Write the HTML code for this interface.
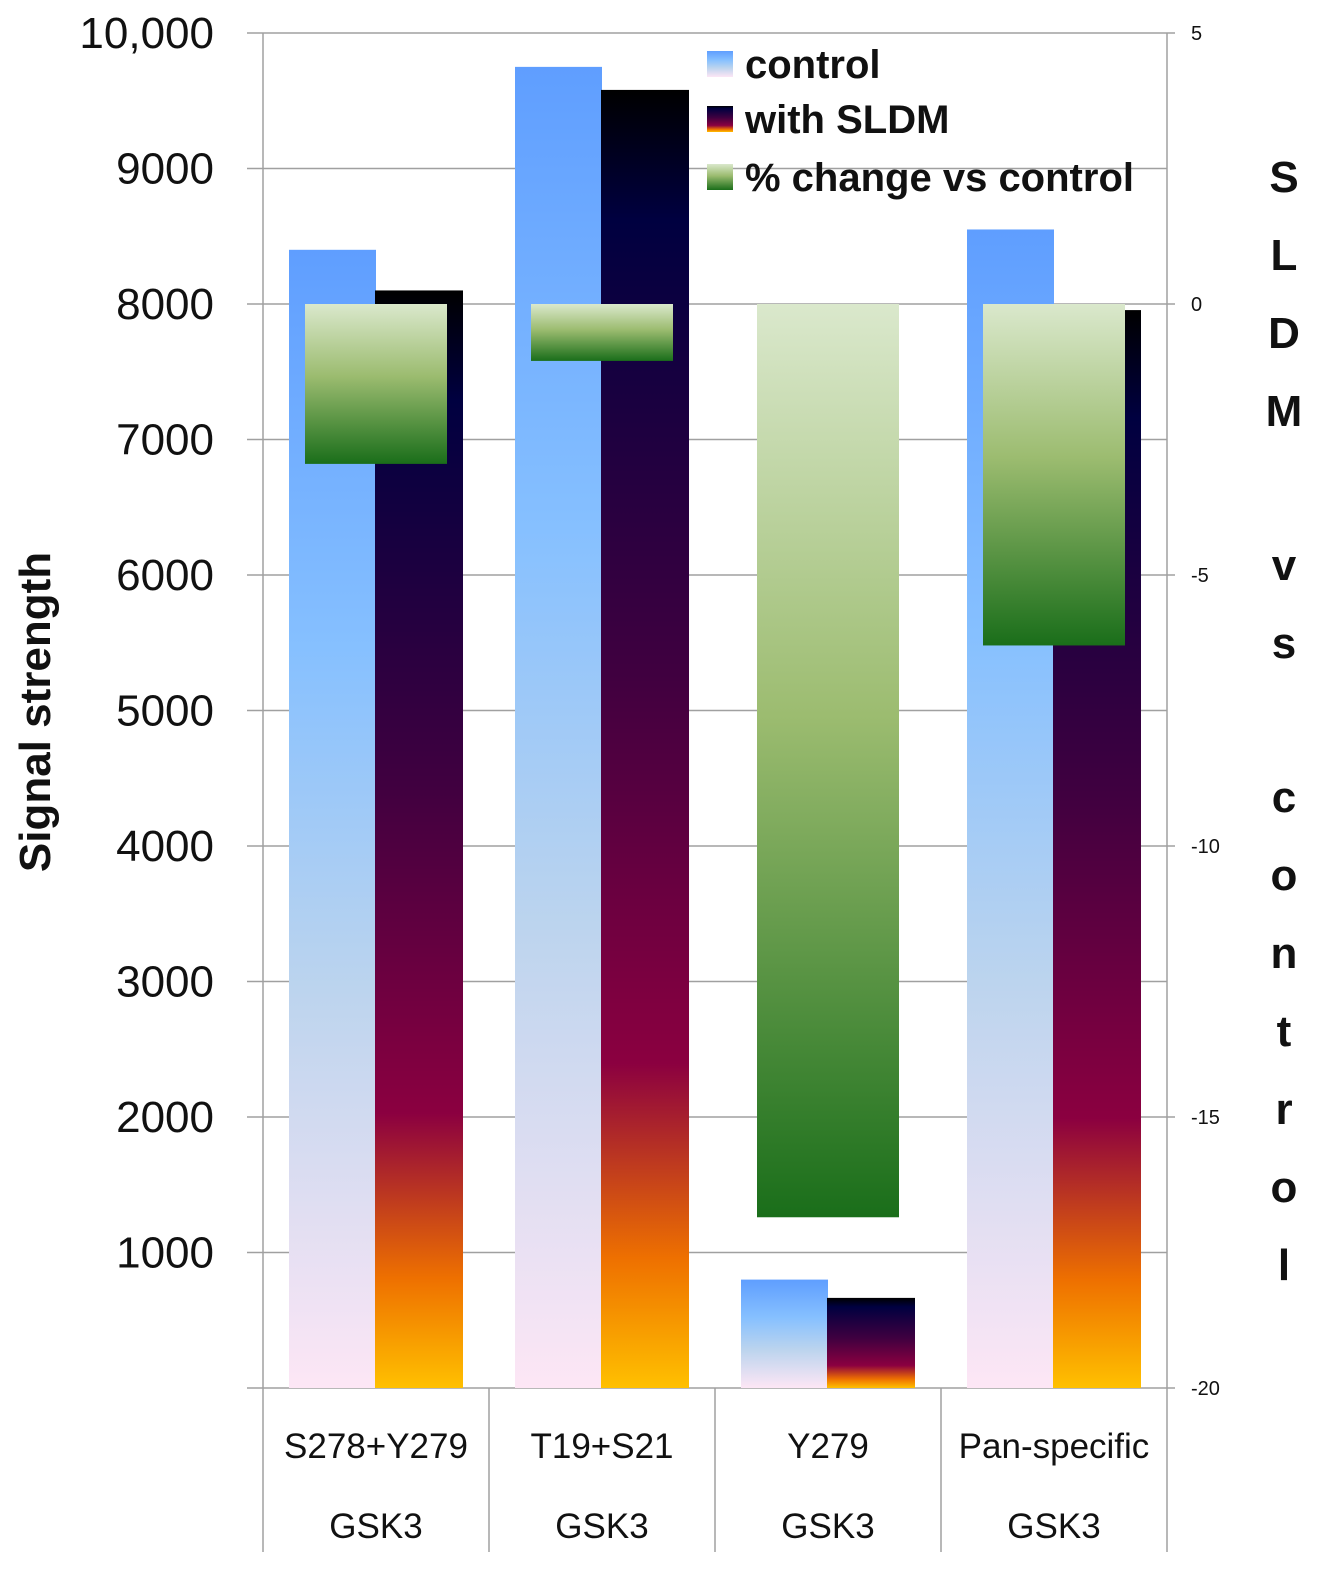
<!DOCTYPE html>
<html><head><meta charset="utf-8"><style>
body{margin:0;background:#fff;}
svg{display:block;font-family:"Liberation Sans",sans-serif;}
</style></head><body>
<svg id="chart" width="1334" height="1588">
<defs>
<linearGradient id="gCtrl" x1="0" y1="0" x2="0" y2="1">
<stop offset="0" stop-color="#5f9eff"/><stop offset="0.35" stop-color="#86c0ff"/><stop offset="0.65" stop-color="#bcd4ee"/><stop offset="1" stop-color="#fde6f5"/></linearGradient>
<linearGradient id="gSldm" x1="0" y1="0" x2="0" y2="1">
<stop offset="0" stop-color="#000000"/><stop offset="0.1" stop-color="#000040"/><stop offset="0.45" stop-color="#400040"/><stop offset="0.75" stop-color="#8b0040"/><stop offset="0.9" stop-color="#ee7000"/><stop offset="1" stop-color="#ffc000"/></linearGradient>
<linearGradient id="gPct" x1="0" y1="0" x2="0" y2="1">
<stop offset="0" stop-color="#dae8cc"/><stop offset="0.45" stop-color="#9cbc70"/><stop offset="1" stop-color="#1a6e1a"/></linearGradient>
</defs>
<g id="grid"></g><g id="bars"></g><g id="labels"></g>
</svg>
<script>
const categories = ["S278+Y279","T19+S21","Y279","Pan-specific"];
const subLabels = ["GSK3","GSK3","GSK3","GSK3"];
const controlVals = [8400, 9750, 800, 8550];
const sldmVals = [8100, 9580, 665, 7955];
const pctVals = [-2.95, -1.05, -16.85, -6.3];
const leftTicks = [1000,2000,3000,4000,5000,6000,7000,8000,9000,10000];
const leftTickLabels = ["1000","2000","3000","4000","5000","6000","7000","8000","9000","10,000"];
const rightTicks = [5,0,-5,-10,-15,-20];

const NS="http://www.w3.org/2000/svg";
const L=263,R=1167,T=33,B=1388;
const yL=v=>B-(v/10000)*(B-T);
const yR=v=>T+(5-v)/25*(B-T);
const cw=(R-L)/categories.length;
function mk(tag,attrs,parent,text){const e=document.createElementNS(NS,tag);for(const k in attrs)e.setAttribute(k,attrs[k]);if(text!==undefined)e.textContent=text;parent.appendChild(e);return e;}
const grid=document.getElementById('grid'),bars=document.getElementById('bars'),labels=document.getElementById('labels');

leftTicks.forEach((v,i)=>{
  const l=mk('line',{x1:247,x2:R,y1:yL(v),y2:yL(v),stroke:'#a0a0a0','stroke-width':1.5},grid);
  
  
  const t=mk('text',{x:214,y:yL(v)+15,'text-anchor':'end','font-size':44,fill:'#111'},labels,leftTickLabels[i]);
  
  
});
mk('line',{x1:247,x2:R,y1:B,y2:B,stroke:'#a0a0a0','stroke-width':1.5},grid);
mk('line',{x1:L,x2:L,y1:T,y2:1552,stroke:'#a0a0a0','stroke-width':1.5},grid);
mk('line',{x1:R,x2:R,y1:T,y2:1552,stroke:'#a0a0a0','stroke-width':1.5},grid);
rightTicks.forEach(v=>{
  mk('line',{x1:R,x2:R+8,y1:yR(v),y2:yR(v),stroke:'#a0a0a0','stroke-width':1.5},grid);
  const t=mk('text',{x:R+24,y:yR(v)+7,'font-size':20,fill:'#111'},labels,String(v));
  
  
});
categories.forEach((c,i)=>{
  const x0=L+i*cw;
  if(i>0)mk('line',{x1:x0,x2:x0,y1:B,y2:1552,stroke:'#a0a0a0','stroke-width':1.5},grid);
  const a=mk('rect',{x:x0+26,y:yL(controlVals[i]),width:87,height:B-yL(controlVals[i]),fill:'url(#gCtrl)'},bars);
  
  
  const b=mk('rect',{x:x0+112,y:yL(sldmVals[i]),width:88,height:B-yL(sldmVals[i]),fill:'url(#gSldm)'},bars);
  
  
  const g=mk('rect',{x:x0+42,y:yR(0),width:142,height:yR(pctVals[i])-yR(0),fill:'url(#gPct)'},bars);
  
  
  const t=mk('text',{x:x0+cw/2,y:1458,'text-anchor':'middle','font-size':35,fill:'#111'},labels,c);
  
  
  const s=mk('text',{x:x0+cw/2,y:1538,'text-anchor':'middle','font-size':35,fill:'#111'},labels,subLabels[i]);
  
  
});
// legend
const leg=[["control","url(#gCtrl)",64],["with SLDM","url(#gSldm)",119],["% change vs control","url(#gPct)",177]];
leg.forEach(([n,f,y])=>{
  const r=mk('rect',{x:707,y:y-13,width:26,height:26,fill:f},labels);
  
  
  const t=mk('text',{x:745,y:y+14,'font-size':40,'font-weight':'bold',fill:'#111'},labels,n);
  
  
});
const yt=mk('text',{x:0,y:0,transform:'translate(50,712) rotate(-90)','text-anchor':'middle','font-size':44,'font-weight':'bold',fill:'#111'},labels,'Signal strength');


const rt=mk('text',{x:1284,y:0,'text-anchor':'middle','font-size':44,'font-weight':'bold',fill:'#111'},labels);


const letters=[["S",192],["L",270],["D",348],["M",426],["v",580],["s",658],["c",812],["o",890],["n",968],["t",1046],["r",1124],["o",1202],["l",1280]];
letters.forEach(([ch,y])=>{mk('tspan',{x:1284,y:y},rt,ch);});
</script>
</body></html>
